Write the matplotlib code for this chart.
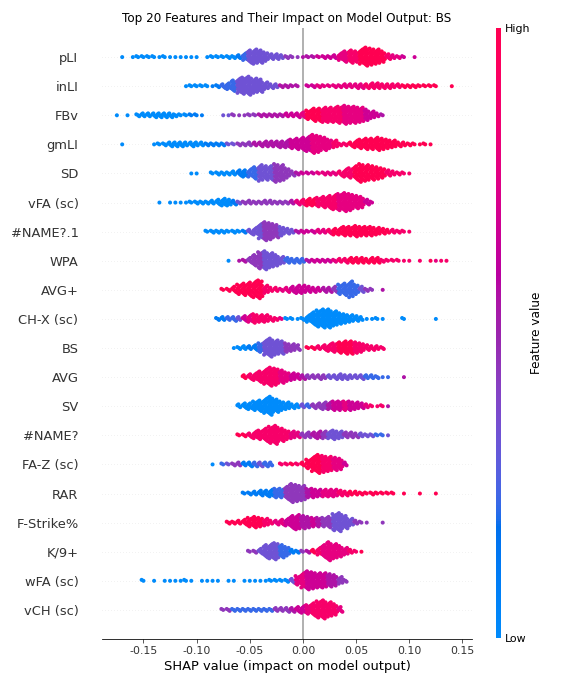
import numpy as np
import matplotlib
matplotlib.use("Agg")
import matplotlib.pyplot as plt
from matplotlib.colors import LinearSegmentedColormap

# features, top to bottom
features = ["pLI", "inLI", "FBv", "gmLI", "SD", "vFA (sc)", "#NAME?.1", "WPA", "AVG+", "CH-X (sc)",
            "BS", "AVG", "SV", "#NAME?", "FA-Z (sc)", "RAR", "F-Strike%", "K/9+", "wFA (sc)", "vCH (sc)"]

# SHAP values binned in steps of 0.005, starting at first_bin for each feature
bin_width = 0.005
first_bin = [-0.170, -0.110, -0.175, -0.170, -0.105, -0.135, -0.090, -0.070, -0.075, -0.080,
             -0.065, -0.055, -0.060, -0.060, -0.085, -0.055, -0.070, -0.050, -0.150, -0.075]

# number of samples in each bin
counts = [
    [1, 0, 1, 2, 2, 2, 2, 1, 2, 1, 1, 1, 1, 1, 1, 0, 1, 2, 2, 2, 3, 3, 4, 8, 14, 16, 14, 10, 6, 6,
     4, 3, 2, 1, 1, 2, 2, 2, 3, 3, 4, 8, 12, 14, 12, 16, 20, 18, 16, 12, 6, 4, 3, 2, 0, 1],
    [1, 2, 2, 2, 2, 1, 3, 5, 7, 12, 16, 18, 20, 16, 14, 8, 5, 4, 3, 3, 2, 2, 0, 2, 3, 3, 2, 2, 3, 3,
     4, 4, 5, 5, 5, 6, 6, 5, 5, 4, 4, 3, 3, 3, 2, 2, 2, 2, 0, 0, 1],
    [1, 0, 1, 0, 3, 4, 4, 5, 5, 5, 5, 3, 2, 2, 2, 2, 1, 0, 0, 0, 1, 1, 2, 1, 1, 2, 2, 3, 3, 3,
     3, 3, 4, 4, 5, 6, 10, 14, 14, 16, 16, 16, 18, 20, 18, 18, 16, 12, 8, 4, 2],
    [1, 0, 0, 0, 0, 0, 1, 2, 3, 5, 5, 5, 4, 5, 4, 4, 3, 3, 3, 3, 2, 2, 3, 3, 4, 4, 5, 6, 6, 6,
     7, 8, 10, 12, 14, 16, 20, 18, 14, 10, 8, 3, 3, 5, 8, 10, 12, 12, 14, 12, 10, 8, 5, 4, 3, 2, 1, 2, 1],
    [1, 1, 0, 0, 2, 3, 3, 3, 4, 6, 7, 8, 12, 16, 14, 14, 18, 16, 10, 5, 3, 2, 2, 2, 2, 3, 3, 3, 5, 8,
     10, 14, 18, 16, 14, 12, 10, 6, 4, 3, 2, 1],
    [1, 0, 1, 1, 1, 1, 2, 3, 3, 3, 4, 6, 8, 7, 5, 3, 3, 4, 3, 3, 4, 4, 3, 3, 3, 4, 5, 6, 8, 8,
     10, 12, 14, 16, 18, 20, 18, 14, 12, 6, 2],
    [2, 3, 3, 3, 2, 3, 2, 3, 5, 8, 16, 20, 18, 14, 10, 6, 4, 3, 3, 2, 3, 4, 4, 5, 7, 8, 10, 10, 12, 10,
     10, 10, 8, 6, 4, 4, 3, 2, 1],
    [1, 0, 1, 3, 6, 12, 18, 20, 16, 12, 8, 6, 5, 5, 4, 3, 3, 3, 3, 3, 3, 4, 5, 6, 6, 6, 5, 6, 6, 3,
     2, 2, 2, 1, 1, 0, 1, 0, 1, 1, 1, 1],
    [2, 3, 6, 10, 12, 14, 16, 18, 8, 4, 4, 3, 5, 6, 8, 8, 6, 5, 4, 5, 5, 6, 10, 12, 16, 10, 6, 3, 2, 0, 1],
    [3, 4, 4, 5, 4, 6, 8, 10, 8, 8, 5, 3, 2, 2, 2, 1, 3, 8, 14, 18, 20, 20, 16, 12, 10, 8, 6, 4, 1, 1,
     2, 1, 0, 0, 0, 2, 0, 0, 0, 0, 0, 1],
    [1, 3, 4, 4, 6, 10, 16, 20, 16, 14, 10, 8, 6, 0, 2, 3, 4, 6, 8, 10, 12, 14, 14, 12, 10, 6, 5, 4, 3],
    [4, 6, 8, 12, 16, 20, 18, 14, 10, 8, 6, 5, 4, 4, 5, 4, 4, 5, 6, 5, 4, 4, 5, 4, 4, 3, 1, 1, 0, 0, 1],
    [4, 6, 7, 10, 12, 16, 20, 14, 10, 8, 5, 4, 4, 4, 5, 6, 8, 8, 10, 10, 10, 10, 8, 6, 4, 2, 1, 2, 1],
    [2, 3, 5, 8, 10, 14, 18, 20, 14, 10, 8, 6, 5, 6, 6, 8, 8, 8, 10, 8, 6, 6, 5, 4, 3, 3, 2, 2, 1],
    [1, 0, 2, 2, 3, 4, 4, 5, 5, 5, 5, 4, 0, 2, 2, 2, 2, 4, 10, 16, 20, 18, 16, 14, 12, 4],
    [2, 3, 4, 6, 6, 8, 10, 10, 14, 20, 18, 16, 10, 10, 8, 8, 8, 8, 6, 5, 4, 4, 3, 2, 3, 2, 2, 2, 2, 0,
     1, 0, 0, 1, 0, 0, 1],
    [3, 3, 4, 6, 10, 12, 10, 8, 4, 5, 6, 8, 14, 16, 14, 12, 10, 10, 10, 12, 18, 20, 14, 8, 4, 2, 1, 0, 0, 1],
    [2, 3, 6, 14, 16, 18, 14, 10, 4, 3, 2, 3, 4, 8, 14, 20, 16, 12, 8, 4, 2, 1],
    [2, 0, 1, 0, 1, 1, 1, 1, 2, 1, 0, 1, 1, 1, 1, 0, 1, 1, 0, 1, 1, 1, 1, 1, 2, 2, 2, 3, 5, 10,
     16, 20, 18, 16, 16, 14, 12, 8, 3],
    [2, 3, 3, 3, 3, 3, 3, 3, 3, 3, 4, 4, 5, 5, 6, 8, 10, 14, 18, 20, 16, 12, 6],
]

# mean feature value in each bin, 0 = low ... 9 = high
levels = [
    "00000000000000000000" "0012333333" "3444555666" "6778899999" "877666",
    "0000011222" "3333333355" "5556677777" "7777888888" "89999999999",
    "0000000000" "0000111000" "3344444555" "5566679998" "88877776665",
    "0000000000" "0000001111" "3344455555" "5566667777" "8889999999" "999999999",
    "0000000001" "1223334444" "5666777788" "899999988888",
    "0000000000" "0000134444" "4444457899" "88887777766",
    "0000000133" "3444333566" "6778999999" "999998888",
    "0055444333" "3222256666" "7889999998" "888888889788",
    "9999999988" "8776666665" "54222234455",
    "1122367888" "8870000000" "0000000000" "000000000000",
    "0001123333" "4440998888" "999888888",
    "9888888776" "6544443333" "33322222225",
    "0000000000" "0032444566" "766678885",
    "9988888888" "7744554333" "444333223",
    "0023441123" "2208898999" "988776",
    "1111112244" "4456677788" "9999999999" "9999999",
    "9999999887" "7666556544" "3333444444",
    "4433332211" "459877777889",
    "0000000000" "0000000000" "0000000037" "766665544",
    "4422222222" "4445667888" "887",
]

x_ticks = [-0.15, -0.10, -0.05, 0.00, 0.05, 0.10, 0.15]


def lch_to_rgb(l, c, h):
    a, b = c * np.cos(h), c * np.sin(h)
    fy = (l + 16) / 116
    fx = fy + a / 500
    fz = fy - b / 200
    finv = lambda t: np.where(t > 0.2068966, t ** 3, (t - 16 / 116) / 7.787)
    x, y, z = 0.95047 * finv(fx), finv(fy), 1.08883 * finv(fz)
    rgb = np.array([3.2406 * x - 1.5372 * y - 0.4986 * z,
                    -0.9689 * x + 1.8758 * y + 0.0415 * z,
                    0.0557 * x - 0.2040 * y + 1.0570 * z])
    rgb = np.where(rgb > 0.0031308, 1.055 * np.abs(rgb) ** (1 / 2.4) - 0.055, 12.92 * rgb)
    return np.clip(rgb, 0, 1)


# blue -> purple -> red colour scale
steps = 100
l_vals = list(np.linspace(54, 40, steps // 2)) + list(np.linspace(40, 54, steps // 2))
c_vals = np.linspace(70, 90, steps)
h_vals = np.linspace(4.6588, 0.35470565 + 2 * np.pi, steps)
red_blue = LinearSegmentedColormap.from_list(
    "red_blue", [lch_to_rgb(l, c, h) for l, c, h in zip(l_vals, c_vals, h_vals)])

fig = plt.figure(figsize=(8, 9.5), dpi=72)
ax = fig.add_axes([102 / 576, 45 / 684, 370 / 576, 611 / 684])

n_feat = len(features)
row_height = 0.4
ax.axvline(x=0, color="#999999", zorder=-1)

for r in range(n_feat):
    pos = n_feat - 1 - r
    ax.axhline(y=pos, color="#cccccc", lw=0.5, dashes=(1, 5), zorder=-1)
    xs, ys, cs = [], [], []
    for k, (n, lev) in enumerate(zip(counts[r], levels[r])):
        centre = first_bin[r] + k * bin_width
        for layer in range(n):
            xs.append(centre + ((layer * 0.618034 + 0.5) % 1 - 0.5) * bin_width * 0.9)
            ys.append(np.ceil(layer / 2) * ((layer % 2) * 2 - 1))
            cs.append(int(lev) / 9)
    ys = np.array(ys)
    ys *= 0.9 * (row_height / np.max(ys + 1))
    ax.scatter(xs, pos + ys, c=cs, cmap=red_blue, vmin=0, vmax=1, s=16,
               linewidths=0, alpha=1, zorder=3)

ax.xaxis.set_ticks_position("bottom")
ax.yaxis.set_ticks_position("none")
for side in ["right", "top", "left"]:
    ax.spines[side].set_visible(False)
ax.tick_params(color="#333333", labelcolor="#333333")
ax.set_yticks(range(n_feat))
ax.set_yticklabels(features[::-1], fontsize=13)
ax.tick_params("y", length=20, width=0.5, which="major")
ax.tick_params("x", labelsize=11)
ax.set_xticks(x_ticks)
ax.set_xticklabels(["%.2f" % t for t in x_ticks])
ax.set_xlim(-0.189, 0.159)
ax.set_ylim(-1, n_feat)
ax.set_xlabel("SHAP value (impact on model output)", fontsize=13)
ax.set_title("Top 20 Features and Their Impact on Model Output: BS", fontsize=12)

cax = fig.add_axes([496 / 576, 46 / 684, 5 / 576, 610 / 684])
sm = plt.cm.ScalarMappable(cmap=red_blue)
sm.set_array([0, 1])
cb = fig.colorbar(sm, cax=cax, ticks=[0, 1])
cb.set_ticklabels(["Low", "High"])
cb.set_label("Feature value", size=12, labelpad=0)
cb.ax.tick_params(labelsize=11, length=0)
cb.outline.set_visible(False)

fig.savefig("out.png", dpi=72)
